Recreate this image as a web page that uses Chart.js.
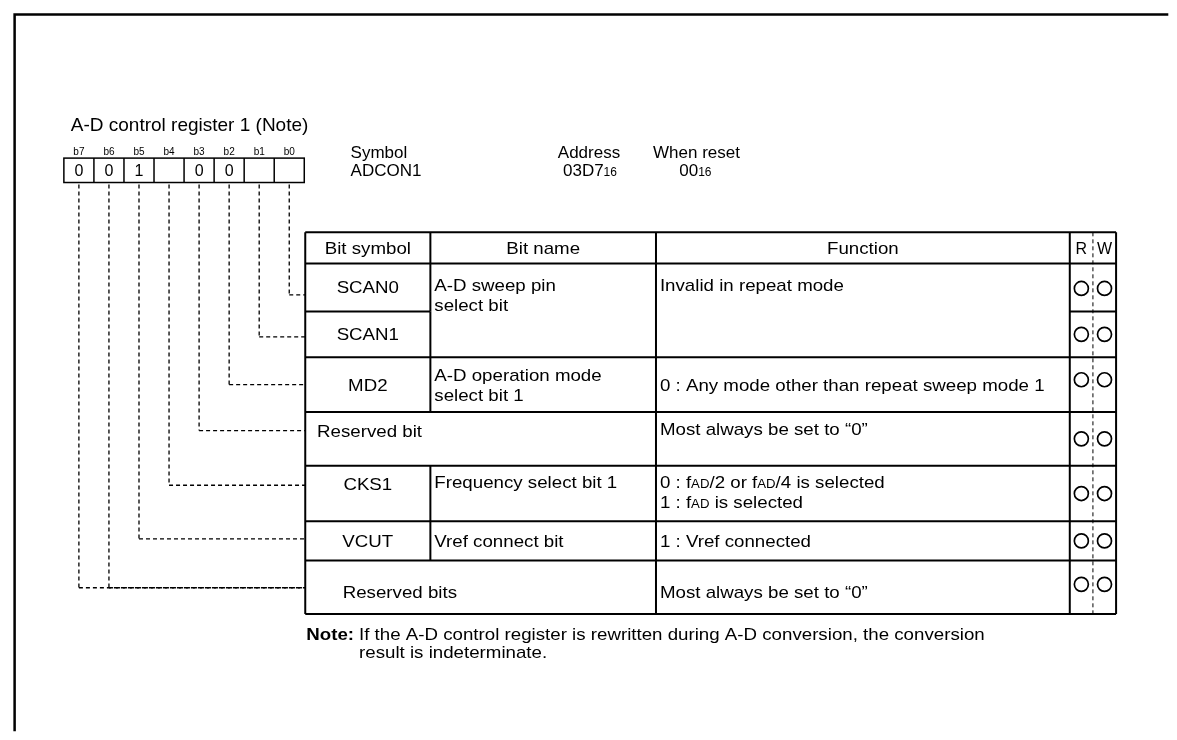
<!DOCTYPE html>
<html>
<head>
<meta charset="utf-8">
<script src="https://cdn.jsdelivr.net/npm/chart.js@4.4.1/dist/chart.umd.min.js"></script>
<style>
  html, body { margin: 0; padding: 0; background: #fff; }
  canvas { display: block; }
</style>
</head>
<body>
<canvas id="reg-chart" width="1177" height="740"></canvas>
<script>
// register data
const registerTitle = 'A-D control register 1 (Note)';
const bitLabels = ['b7', 'b6', 'b5', 'b4', 'b3', 'b2', 'b1', 'b0'];
const bitValues = ['0', '0', '1', '', '0', '0', '', ''];
const headerLabels = ['Symbol', 'Address', 'When reset'];
const headerValues = ['ADCON1', '03D7{16}', '00{16}'];
const columnTitles = ['Bit symbol', 'Bit name', 'Function'];
const bitSymbols = ['SCAN0', 'SCAN1', 'MD2', 'Reserved bit', 'CKS1', 'VCUT', 'Reserved bits'];
const bitNames = [['A-D sweep pin', 'select bit'], [], ['A-D operation mode', 'select bit 1'], [], ['Frequency select bit 1'], ['Vref connect bit'], []];
const bitFunctions = [['Invalid in repeat mode'], [], ['0 : Any mode other than repeat sweep mode 1'], ['Most always be set to \u201c0\u201d'],
  ['0 : f{AD}/2 or f{AD}/4 is selected', '1 : f{AD} is selected'], ['1 : Vref connected'], ['Most always be set to \u201c0\u201d']];
const rowBits = [['b0'], ['b1'], ['b2'], ['b3'], ['b4'], ['b5'], ['b6', 'b7']];
const readable = [true, true, true, true, true, true, true];
const writable = [true, true, true, true, true, true, true];
const noteLines = ['If the A-D control register is rewritten during A-D conversion, the conversion', 'result is indeterminate.'];

// layout (page units, mapped through the chart scales)
const W = 1177, H = 740;
const FONT = '"Liberation Sans", Arial, sans-serif';
const boxX = [56, 300], boxY = [153, 178];
const colX = [301, 428, 657, 1077, 1124];
const rowY = [229, 261, 310, 357, 413, 468, 525, 565, 620];
const textY = [285, 333, 385, 432, 487, 545, 597];
const linkY = [293, 336, 385, 432, 488, 543, 593];
const markShift = [1, 0, -5, 0, 0, 0, -3];
const blockTop = [true, false, false, true, true, false, false];
const leftSpan = [false, false, false, true, false, false, true];
const spanX = [313, 313, 313, 313, 313, 313, 339];
const BODY = 17, SX = 1.1, lh = 20;

const rwMid = (colX[3] + colX[4]) / 2;
const rowMid = i => (rowY[i + 1] + rowY[i + 2]) / 2;

function parts(str) {
  const out = [];
  str.split(/(\{[^}]*\})/).forEach(s => {
    if (!s) return;
    if (s[0] === '{') out.push({ t: s.slice(1, -1), small: true });
    else out.push({ t: s, small: false });
  });
  return out;
}

function richText(ctx, str, x, y, size, align, bold, sx) {
  sx = sx || 1;
  const segs = parts(str);
  const big = (bold ? 'bold ' : '') + size + 'px ' + FONT;
  const small = Math.round(size * 0.72) + 'px ' + FONT;
  let total = 0;
  segs.forEach(s => { ctx.font = s.small ? small : big; s.w = ctx.measureText(s.t).width; total += s.w; });
  ctx.save();
  ctx.translate(align === 'center' ? x - total * sx / 2 : x, y + size * 0.36);
  ctx.scale(sx, 1);
  ctx.textAlign = 'left';
  ctx.textBaseline = 'alphabetic';
  let cx = 0;
  segs.forEach(s => {
    ctx.font = s.small ? small : big;
    ctx.fillText(s.t, cx, 0);
    cx += s.w;
  });
  ctx.restore();
  return total * sx;
}

const registerPlugin = {
  id: 'registerPlugin',
  beforeDatasetsDraw(chart) {
    const ctx = chart.ctx;
    const xs = chart.scales.x, ys = chart.scales.y;
    const px = v => xs.getPixelForValue(v);
    const py = v => ys.getPixelForValue(v);
    const line = (x1, y1, x2, y2) => { ctx.beginPath(); ctx.moveTo(px(x1), py(y1)); ctx.lineTo(px(x2), py(y2)); ctx.stroke(); };
    ctx.save();
    ctx.fillStyle = '#000';
    ctx.strokeStyle = '#000';

    // frame
    ctx.lineWidth = 2.5;
    ctx.beginPath();
    ctx.moveTo(px(6), py(H)); ctx.lineTo(px(6), py(6)); ctx.lineTo(px(W), py(6));
    ctx.stroke();

    richText(ctx, registerTitle, px(63), py(118), 19, 'left');

    // bit boxes
    const cellW = (boxX[1] - boxX[0]) / bitLabels.length;
    const cellC = i => boxX[0] + cellW * (i + 0.5);
    ctx.lineWidth = 1.5;
    ctx.strokeRect(px(boxX[0]), py(boxY[0]), px(boxX[1]) - px(boxX[0]), py(boxY[1]) - py(boxY[0]));
    bitLabels.forEach((b, i) => {
      if (i > 0) line(boxX[0] + cellW * i, boxY[0], boxX[0] + cellW * i, boxY[1]);
      richText(ctx, b, px(cellC(i)), py(146), 10, 'center');
      richText(ctx, bitValues[i], px(cellC(i)), py(165), 16, 'center');
    });

    // symbol / address / reset
    richText(ctx, headerLabels[0], px(347), py(147), 17, 'left');
    richText(ctx, headerValues[0], px(347), py(165), 17, 'left');
    richText(ctx, headerLabels[1], px(589), py(147), 17, 'center');
    richText(ctx, headerValues[1], px(590), py(165), 17, 'center');
    richText(ctx, headerLabels[2], px(654), py(147), 17, 'left');
    richText(ctx, headerValues[2], px(697), py(165), 17, 'center');

    // table lines
    ctx.lineWidth = 2;
    const top = rowY[0], bot = rowY[rowY.length - 1];
    line(colX[0], top, colX[4], top);
    line(colX[0], rowY[1], colX[4], rowY[1]);
    bitSymbols.forEach((s, i) => {
      const yb = rowY[i + 2];
      const next = i + 1;
      if (next < bitSymbols.length && bitNames[next].length === 0 && bitFunctions[next].length === 0 && !leftSpan[next]) {
        // name / function cells are merged with the row below
        line(colX[0], yb, colX[1], yb);
        line(colX[3], yb, colX[4], yb);
      } else {
        line(colX[0], yb, colX[4], yb);
      }
    });
    [0, 2, 3, 4].forEach(c => line(colX[c], top, colX[c], bot));
    line(colX[1], top, colX[1], rowY[1]);
    bitSymbols.forEach((s, i) => { if (!leftSpan[i]) line(colX[1], rowY[i + 1], colX[1], rowY[i + 2]); });

    // R/W divider
    ctx.lineWidth = 1;
    ctx.setLineDash([4, 3]);
    line(rwMid, top, rwMid, bot);
    ctx.setLineDash([]);

    // header texts
    columnTitles.forEach((t, c) => richText(ctx, t, px((colX[c] + colX[c + 1]) / 2), py(245), BODY, 'center', false, SX));
    richText(ctx, 'R', px((colX[3] + rwMid) / 2), py(245), 16, 'center');
    richText(ctx, 'W', px((rwMid + colX[4]) / 2), py(245), 16, 'center');

    // rows
    bitSymbols.forEach((s, i) => {
      const ty = textY[i];
      if (leftSpan[i]) richText(ctx, s, px(spanX[i]), py(ty), BODY, 'left', false, SX);
      else richText(ctx, s, px((colX[0] + colX[1]) / 2), py(ty), BODY, 'center', false, SX);
      const names = bitNames[i], funcs = bitFunctions[i];
      const n0 = blockTop[i] ? ty - 2 : ty - (names.length - 1) * lh / 2;
      names.forEach((t, k) => richText(ctx, t, px(colX[1] + 4), py(n0 + k * lh), BODY, 'left', false, SX));
      const f0 = blockTop[i] ? ty - 2 : ty - (funcs.length - 1) * lh / 2;
      funcs.forEach((t, k) => richText(ctx, t, px(colX[2] + 4), py(f0 + k * lh), BODY, 'left', false, SX));
    });

    // connectors from bits to rows
    ctx.lineWidth = 1.3;
    ctx.setLineDash([4, 3]);
    rowBits.forEach((bits, i) => {
      const cy = linkY[i];
      bits.forEach(b => {
        const x = cellC(bitLabels.indexOf(b));
        line(x, boxY[1] + 2, x, cy);
        line(x, cy, colX[0], cy);
      });
    });
    ctx.setLineDash([]);

    // note
    const nw = richText(ctx, 'Note:', px(302), py(640), BODY, 'left', true, SX);
    richText(ctx, noteLines[0], px(302) + nw + 5, py(640), BODY, 'left', false, SX);
    richText(ctx, noteLines[1], px(302) + nw + 5, py(659), BODY, 'left', false, SX);
    ctx.restore();
  }
};

const rPoints = bitSymbols.map((s, i) => ({ x: (colX[3] + rwMid) / 2, y: rowMid(i) + markShift[i] })).filter((p, i) => readable[i]);
const wPoints = bitSymbols.map((s, i) => ({ x: (rwMid + colX[4]) / 2, y: rowMid(i) + markShift[i] })).filter((p, i) => writable[i]);

const ctx = document.getElementById('reg-chart').getContext('2d');
new Chart(ctx, {
  type: 'scatter',
  data: {
    datasets: [
      { label: 'R', data: rPoints, pointRadius: 7, borderWidth: 1.7, borderColor: '#000', backgroundColor: 'rgba(255,255,255,0)' },
      { label: 'W', data: wPoints, pointRadius: 7, borderWidth: 1.7, borderColor: '#000', backgroundColor: 'rgba(255,255,255,0)' }
    ]
  },
  options: {
    responsive: false,
    animation: false,
    layout: { padding: 0 },
    scales: {
      x: { type: 'linear', min: 0, max: W, display: false },
      y: { type: 'linear', min: 0, max: H, reverse: true, display: false }
    },
    plugins: { legend: { display: false }, tooltip: { enabled: false } }
  },
  plugins: [registerPlugin]
});
</script>
</body>
</html>
